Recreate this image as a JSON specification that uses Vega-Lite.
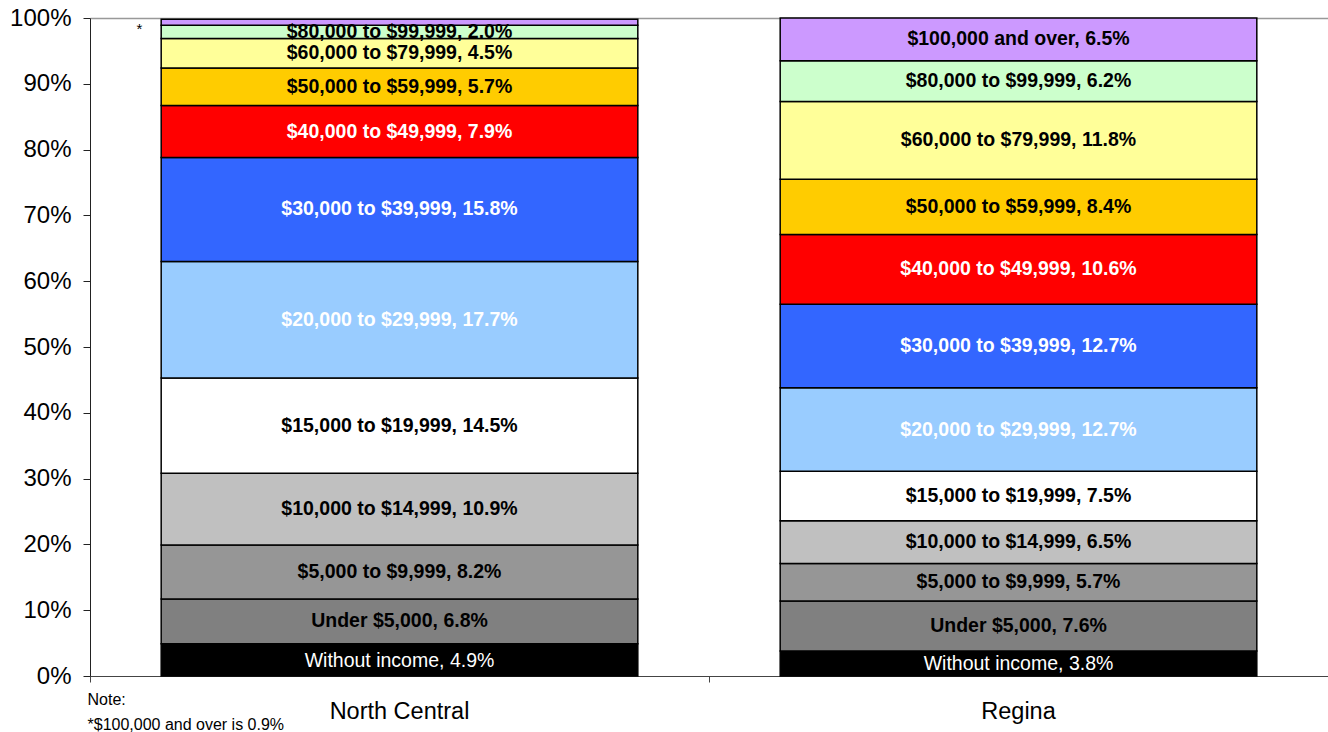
{
  "$schema": "https://vega.github.io/schema/vega-lite/v6.json",
  "autosize": {"type": "none"},
  "padding": {"left": 90, "top": 18, "right": 0, "bottom": 56},
  "width": 1238,
  "height": 658,
  "background": "white",
  "config": {"font": "Liberation Sans", "view": {"stroke": null}},
  "data": {"values": [
    {"area": "North Central", "bracket": "Without income", "k": 0, "p": 0.049},
    {"area": "North Central", "bracket": "Under $5,000", "k": 1, "p": 0.068},
    {"area": "North Central", "bracket": "$5,000 to $9,999", "k": 2, "p": 0.082},
    {"area": "North Central", "bracket": "$10,000 to $14,999", "k": 3, "p": 0.109},
    {"area": "North Central", "bracket": "$15,000 to $19,999", "k": 4, "p": 0.145},
    {"area": "North Central", "bracket": "$20,000 to $29,999", "k": 5, "p": 0.177},
    {"area": "North Central", "bracket": "$30,000 to $39,999", "k": 6, "p": 0.158},
    {"area": "North Central", "bracket": "$40,000 to $49,999", "k": 7, "p": 0.079},
    {"area": "North Central", "bracket": "$50,000 to $59,999", "k": 8, "p": 0.057},
    {"area": "North Central", "bracket": "$60,000 to $79,999", "k": 9, "p": 0.045},
    {"area": "North Central", "bracket": "$80,000 to $99,999", "k": 10, "p": 0.020},
    {"area": "North Central", "bracket": "$100,000 and over", "k": 11, "p": 0.009},
    {"area": "Regina", "bracket": "Without income", "k": 0, "p": 0.038},
    {"area": "Regina", "bracket": "Under $5,000", "k": 1, "p": 0.076},
    {"area": "Regina", "bracket": "$5,000 to $9,999", "k": 2, "p": 0.057},
    {"area": "Regina", "bracket": "$10,000 to $14,999", "k": 3, "p": 0.065},
    {"area": "Regina", "bracket": "$15,000 to $19,999", "k": 4, "p": 0.075},
    {"area": "Regina", "bracket": "$20,000 to $29,999", "k": 5, "p": 0.127},
    {"area": "Regina", "bracket": "$30,000 to $39,999", "k": 6, "p": 0.127},
    {"area": "Regina", "bracket": "$40,000 to $49,999", "k": 7, "p": 0.106},
    {"area": "Regina", "bracket": "$50,000 to $59,999", "k": 8, "p": 0.084},
    {"area": "Regina", "bracket": "$60,000 to $79,999", "k": 9, "p": 0.118},
    {"area": "Regina", "bracket": "$80,000 to $99,999", "k": 10, "p": 0.062},
    {"area": "Regina", "bracket": "$100,000 and over", "k": 11, "p": 0.065}
  ]},
  "encoding": {
    "x": {
      "field": "area", "type": "nominal", "sort": ["North Central", "Regina"],
      "scale": {"paddingInner": 0, "paddingOuter": 0},
      "axis": {
        "labelAngle": 0, "labelFontSize": 23.5, "labelColor": "#000", "labelPadding": 17,
        "tickSize": 6, "tickColor": "#444", "domainColor": "#444", "bandPosition": 0,
        "title": ["Note:", "*$100,000 and over is 0.9%"],
        "titleFontSize": 16, "titleFontWeight": "normal", "titleColor": "#000",
        "titleAlign": "left", "titleBaseline": "top", "titleAnchor": "start",
        "titleX": -3, "titleY": 15, "titleLineHeight": 25
      }
    }
  },
  "layer": [
    {
      "mark": {"type": "bar", "width": {"band": 0.77}, "stroke": "#000", "strokeWidth": 1.5},
      "encoding": {
        "y": {
          "field": "p", "type": "quantitative", "stack": "zero",
          "scale": {"domain": [0, 1], "nice": false},
          "axis": {
            "values": [0, 0.1, 0.2, 0.3, 0.4, 0.5, 0.6, 0.7, 0.8, 0.9, 1],
            "format": "%", "title": null, "labelFontSize": 24, "labelColor": "#000",
            "labelPadding": 12, "tickSize": 7, "tickColor": "#222", "domainColor": "#222",
            "grid": true,
            "gridColor": {"condition": {"test": "datum.value >= 0.999", "value": "#999"}, "value": "transparent"},
            "gridWidth": 1.5
          }
        },
        "order": {"field": "k", "type": "quantitative"},
        "color": {
          "field": "bracket", "type": "nominal", "legend": null,
          "scale": {
            "domain": ["Without income", "Under $5,000", "$5,000 to $9,999", "$10,000 to $14,999", "$15,000 to $19,999", "$20,000 to $29,999", "$30,000 to $39,999", "$40,000 to $49,999", "$50,000 to $59,999", "$60,000 to $79,999", "$80,000 to $99,999", "$100,000 and over"],
            "range": ["#000000", "#808080", "#969696", "#C0C0C0", "#FFFFFF", "#99CCFF", "#3366FF", "#FF0000", "#FFCC00", "#FFFF99", "#CCFFCC", "#CC99FF"]
          }
        }
      }
    },
    {
      "transform": [
        {"stack": "p", "groupby": ["area"], "sort": [{"field": "k"}], "as": ["y0", "y1"]},
        {"calculate": "(datum.y0 + datum.y1) / 2", "as": "ym"},
        {"calculate": "datum.bracket + ', ' + format(datum.p, '.1%')", "as": "label"},
        {"filter": "datum.k == 0"}
      ],
      "mark": {"type": "text", "fontSize": 19.5, "fontWeight": "normal", "color": "#fff", "baseline": "middle", "dy": 1},
      "encoding": {
        "y": {"field": "ym", "type": "quantitative"},
        "text": {"field": "label"}
      }
    },
    {
      "transform": [
        {"stack": "p", "groupby": ["area"], "sort": [{"field": "k"}], "as": ["y0", "y1"]},
        {"calculate": "(datum.y0 + datum.y1) / 2", "as": "ym"},
        {"calculate": "datum.bracket + ', ' + format(datum.p, '.1%')", "as": "label"},
        {"filter": "datum.k > 0 && !(datum.area == 'North Central' && datum.k == 11)"}
      ],
      "mark": {"type": "text", "fontSize": 19.5, "fontWeight": "bold", "baseline": "middle"},
      "encoding": {
        "y": {"field": "ym", "type": "quantitative"},
        "text": {"field": "label"},
        "color": {
          "condition": {"test": "datum.k >= 5 && datum.k <= 7", "value": "#fff"},
          "value": "#000"
        }
      }
    },
    {
      "transform": [
        {"stack": "p", "groupby": ["area"], "sort": [{"field": "k"}], "as": ["y0", "y1"]},
        {"filter": "datum.area == 'North Central' && datum.k == 11"}
      ],
      "mark": {"type": "text", "fontSize": 15, "color": "#000", "dx": -260, "baseline": "top", "dy": 3},
      "encoding": {
        "y": {"field": "y1", "type": "quantitative"},
        "text": {"value": "*"}
      }
    }
  ]
}
